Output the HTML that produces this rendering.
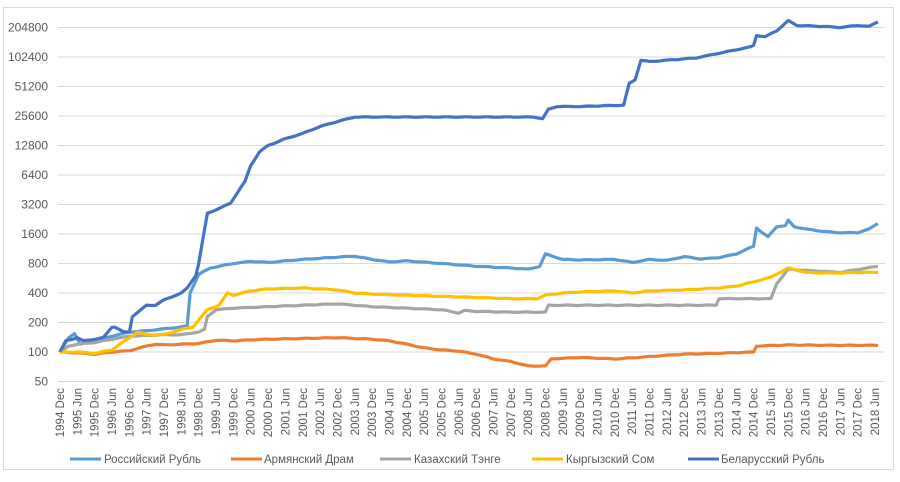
<!DOCTYPE html>
<html><head><meta charset="utf-8"><style>
body{margin:0;background:#fff;}
svg text{font-family:"Liberation Sans",sans-serif;fill:#595959;}
</style></head><body>
<svg id="s" width="900" height="477" xmlns="http://www.w3.org/2000/svg">
<rect x="3.5" y="7.5" width="890" height="462" fill="#fff" stroke="#d9d9d9"/>
<g id="grid"></g><g id="lines"></g><g id="xl"></g>
<g font-size="11.5">
<line x1="70" y1="459" x2="101" y2="459" stroke="#5B9BD5" stroke-width="3"/><text x="104" y="463">Российский Рубль</text>
<line x1="231" y1="459" x2="262" y2="459" stroke="#ED7D31" stroke-width="3"/><text x="264" y="463">Армянский Драм</text>
<line x1="380" y1="459" x2="411" y2="459" stroke="#A5A5A5" stroke-width="3"/><text x="414" y="463">Казахский Тэнге</text>
<line x1="532" y1="459" x2="563" y2="459" stroke="#FFC000" stroke-width="3"/><text x="566" y="463">Кыргызский Сом</text>
<line x1="688" y1="459" x2="719" y2="459" stroke="#4472C4" stroke-width="3"/><text x="721" y="463">Беларусский Рубль</text>
</g>
</svg>
<script>
const NS="http://www.w3.org/2000/svg";
function el(t,a,p,txt){const e=document.createElementNS(NS,t);for(const k in a)e.setAttribute(k,a[k]);if(txt)e.textContent=txt;document.getElementById(p).appendChild(e);return e;}
const Y=v=>352-Math.log2(v/100)*29.5, X=t=>60+t*2.89;
[50,100,200,400,800,1600,3200,6400,12800,25600,51200,102400,204800].forEach(v=>{
 el('line',{x1:58,x2:885,y1:Y(v),y2:Y(v),stroke:'#d9d9d9'},'grid');
 el('text',{x:48,y:Y(v)+4,'text-anchor':'end','font-size':'12'},'grid',String(v));
});
for(let i=0;i<48;i++){const t=i*6,yr=1994+Math.floor((i+1)/2),m=i%2?'Jun':'Dec';
 const x=X(t)+4;el('text',{transform:`translate(${x},388) rotate(-90)`,'text-anchor':'end','font-size':'11.5'},'xl',yr+' '+m);}
const S={
'#5B9BD5':[0,100,3,140,5,155,7,120,12,130,18,145,24,160,30,165,42,180,44,185,45,400,48,620,52,720,60,800,66,840,72,820,84,880,96,930,102,950,108,880,114,830,120,850,132,800,144,750,156,720,162,700,166,750,168,1000,174,880,180,870,192,880,198,820,204,880,210,860,216,940,222,890,228,920,234,1000,240,1200,241,1850,243,1650,245,1500,248,1900,251,1950,252,2200,254,1900,258,1800,264,1700,270,1650,276,1650,280,1800,283,2050],
'#ED7D31':[0,100,6,98,12,95,18,100,24,103,30,115,33,120,36,118,42,120,48,122,54,132,60,130,66,133,72,135,96,140,108,135,114,130,120,120,126,110,132,105,138,102,144,95,150,85,156,80,162,72,168,72,170,85,180,88,192,85,198,87,204,90,216,95,228,97,240,100,241,115,252,118,264,117,283,117],
'#A5A5A5':[0,100,3,115,6,120,12,125,18,135,24,145,36,150,42,150,48,160,50,170,51,230,54,270,60,280,72,290,84,300,96,310,102,300,108,290,120,280,132,270,138,250,140,265,144,260,156,255,168,255,169,300,180,300,198,300,216,300,227,300,228,350,240,350,246,350,248,500,252,700,258,680,270,650,283,750],
'#FFC000':[0,100,6,100,12,97,18,105,24,140,27,160,30,150,36,150,42,170,46,180,51,270,55,300,58,400,60,380,66,420,72,440,84,450,96,430,102,400,108,390,120,380,132,370,144,360,156,350,165,350,168,380,174,400,180,410,192,420,198,400,204,420,216,430,228,450,234,470,240,520,246,580,252,720,258,650,264,640,270,640,276,650,283,650],
'#4472C4':[0,100,2,130,6,140,8,130,12,135,15,140,18,180,19,180,22,160,24,160,25,230,30,300,33,300,36,340,42,400,44,450,46,550,47,600,48,800,51,2600,56,3000,59,3300,62,4500,64,5500,66,8000,69,11000,72,12800,78,15000,84,17000,90,20000,96,22500,102,25000,114,25000,144,25000,164,25000,167,24000,169,30000,172,32000,180,32000,195,33000,197,55000,199,60000,201,95000,204,92000,210,95000,220,100000,230,115000,239,130000,240,135000,241,170000,244,165000,248,190000,252,240000,255,215000,264,210000,270,205000,276,215000,280,210000,283,235000]};
for(const c in S){const d=S[c];let pts=[];
 for(let t=0;t<=283;t++){let j=0;while(d[j+2]<t)j+=2;const t0=d[j],t1=d[j+2],v0=Math.log2(d[j+1]),v1=Math.log2(d[j+3]);
  let v=t1===t0?v0:v0+(v1-v0)*(t-t0)/(t1-t0);v+=Math.sin(t*0.9+c.length)*0.008;
  pts.push(X(t).toFixed(1)+','+Y(Math.pow(2,v)).toFixed(1));}
 el('polyline',{points:pts.join(' '),fill:'none',stroke:c,'stroke-width':3.2,'stroke-linejoin':'round'},'lines');}
</script>
</body></html>
